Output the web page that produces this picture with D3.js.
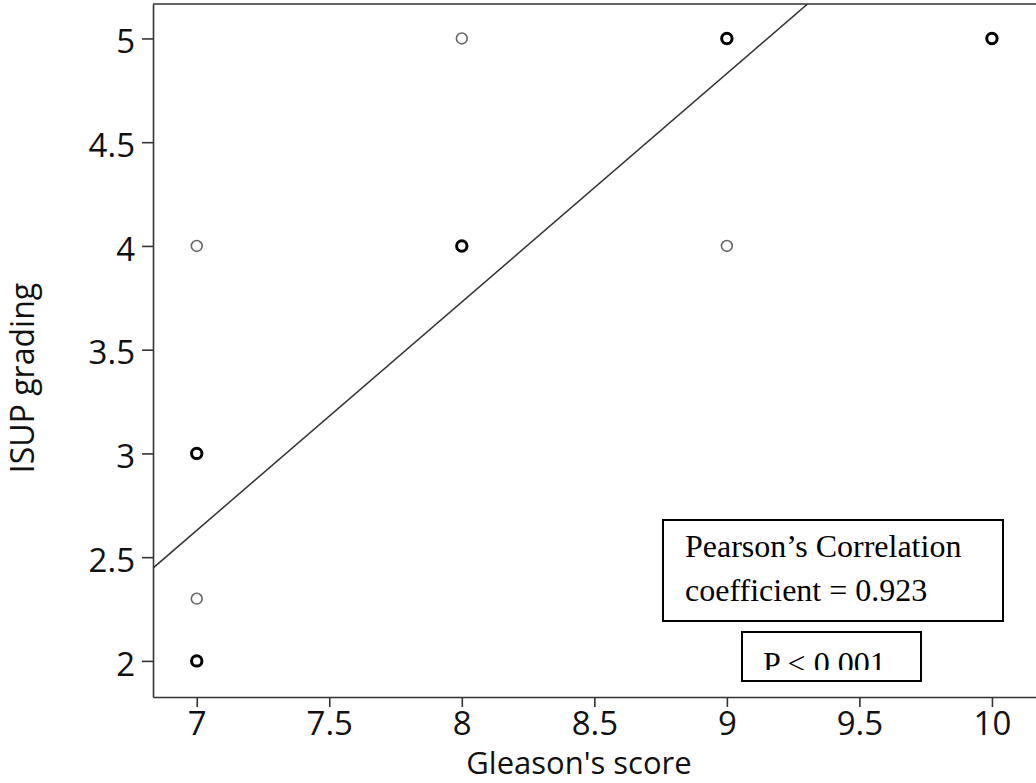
<!DOCTYPE html>
<html>
<head>
<meta charset="utf-8">
<script src="https://cdn.jsdelivr.net/npm/d3@7"></script>
<style>
	body { margin: 0; background: #fff; }
	svg { display: block; }
</style>
</head>
<body>
<svg id="chart" width="1036" height="783"></svg>
<script>
// observations (Gleason's score vs ISUP grade)
var gleason = [7, 7, 7, 7, 8, 8, 9, 9, 10];
var isup = [2, 2.3, 3, 4, 4, 5, 5, 4, 5];
// points that appear several times are drawn darker
var repeated = [true, false, true, false, true, false, true, false, true];

// fitted regression line y = a*x + b
var fitSlope = 1.101;
var fitIntercept = -5.078;

var xTicks = [7, 7.5, 8, 8.5, 9, 9.5, 10];
var yTicks = [2, 2.5, 3, 3.5, 4, 4.5, 5];

drawChart();

function drawChart() {
	var svg = d3.select('#chart');
	var left = 153, right = 1037, top = 4, bottom = 697;

	var x = d3.scaleLinear().domain([6.835, 10.17]).range([left, right]);
	var y = d3.scaleLinear().domain([1.826, 5.166]).range([bottom, top]);

	//clip for the plot area
	svg.append('clipPath').attr('id', 'plot_clip')
		.append('rect')
		.attr('x', left).attr('y', top)
		.attr('width', right - left).attr('height', bottom - top);

	//top frame line
	svg.append('line')
		.attr('x1', left).attr('x2', right)
		.attr('y1', top).attr('y2', top)
		.style('stroke', '#333').style('stroke-width', '1.6px');

	//axes
	var gx = svg.append('g')
		.attr('transform', 'translate(0,' + bottom + ')')
		.call(d3.axisBottom(x).tickValues(xTicks).tickSize(10).tickSizeOuter(0).tickPadding(5).tickFormat(d3.format('')));
	var gy = svg.append('g')
		.attr('transform', 'translate(' + left + ',0)')
		.call(d3.axisLeft(y).tickValues(yTicks).tickSize(11).tickSizeOuter(0).tickPadding(7).tickFormat(d3.format('')));

	[gx, gy].forEach(function(g) {
		g.select('.domain').style('stroke', '#333').style('stroke-width', '1.6px');
		g.selectAll('.tick line').style('stroke', '#333').style('stroke-width', '1.6px');
		g.selectAll('.tick text')
			.style('font-family', '"Open Sans", sans-serif')
			.style('font-size', '33px')
			.style('fill', '#111');
	});
	gy.selectAll('.tick text').attr('dy', '0.43em');

	//regression line
	var line = d3.line().x(d => x(d)).y(d => y(fitSlope * d + fitIntercept));
	svg.append('path')
		.attr('d', line(x.domain()))
		.attr('clip-path', 'url(#plot_clip)')
		.style('fill', 'none')
		.style('stroke', '#333')
		.style('stroke-width', '1.5px');

	//points
	svg.append('g').selectAll('circle')
		.data(gleason)
		.join('circle')
		.attr('cx', (d, i) => x(d))
		.attr('cy', (d, i) => y(isup[i]))
		.attr('r', (d, i) => repeated[i] ? 5.2 : 5.4)
		.style('fill', 'none')
		.style('stroke', (d, i) => repeated[i] ? '#000' : '#666')
		.style('stroke-width', (d, i) => repeated[i] ? '3px' : '1.6px');

	//axis titles
	svg.append('text')
		.attr('x', 579).attr('y', 774)
		.attr('text-anchor', 'middle')
		.style('font-family', '"Open Sans", sans-serif')
		.style('font-size', '31px')
		.style('fill', '#111')
		.text("Gleason's score");
	svg.append('text')
		.attr('transform', 'translate(34,378) rotate(-90)')
		.attr('text-anchor', 'middle')
		.style('font-family', '"Open Sans", sans-serif')
		.style('font-size', '32px')
		.style('fill', '#111')
		.text('ISUP grading');

	//annotation boxes
	var serif = '"Liberation Serif", "Times New Roman", serif';
	svg.append('rect')
		.attr('x', 663).attr('y', 520).attr('width', 340).attr('height', 101)
		.style('fill', '#fff').style('stroke', '#000').style('stroke-width', '2px');
	svg.append('text')
		.attr('x', 685).attr('y', 557)
		.style('font-family', serif).style('font-size', '32px')
		.text('Pearson\u2019s Correlation');
	svg.append('text')
		.attr('x', 685).attr('y', 601)
		.style('font-family', serif).style('font-size', '32px')
		.text('coefficient = 0.923');

	svg.append('clipPath').attr('id', 'p_clip')
		.append('rect').attr('x', 742).attr('y', 632).attr('width', 179).attr('height', 38);
	svg.append('rect')
		.attr('x', 742).attr('y', 632).attr('width', 179).attr('height', 49)
		.style('fill', '#fff').style('stroke', '#000').style('stroke-width', '2px');
	svg.append('text')
		.attr('x', 763).attr('y', 674)
		.attr('clip-path', 'url(#p_clip)')
		.style('font-family', serif).style('font-size', '32px')
		.text('P < 0.001');
}
</script>
</body>
</html>
